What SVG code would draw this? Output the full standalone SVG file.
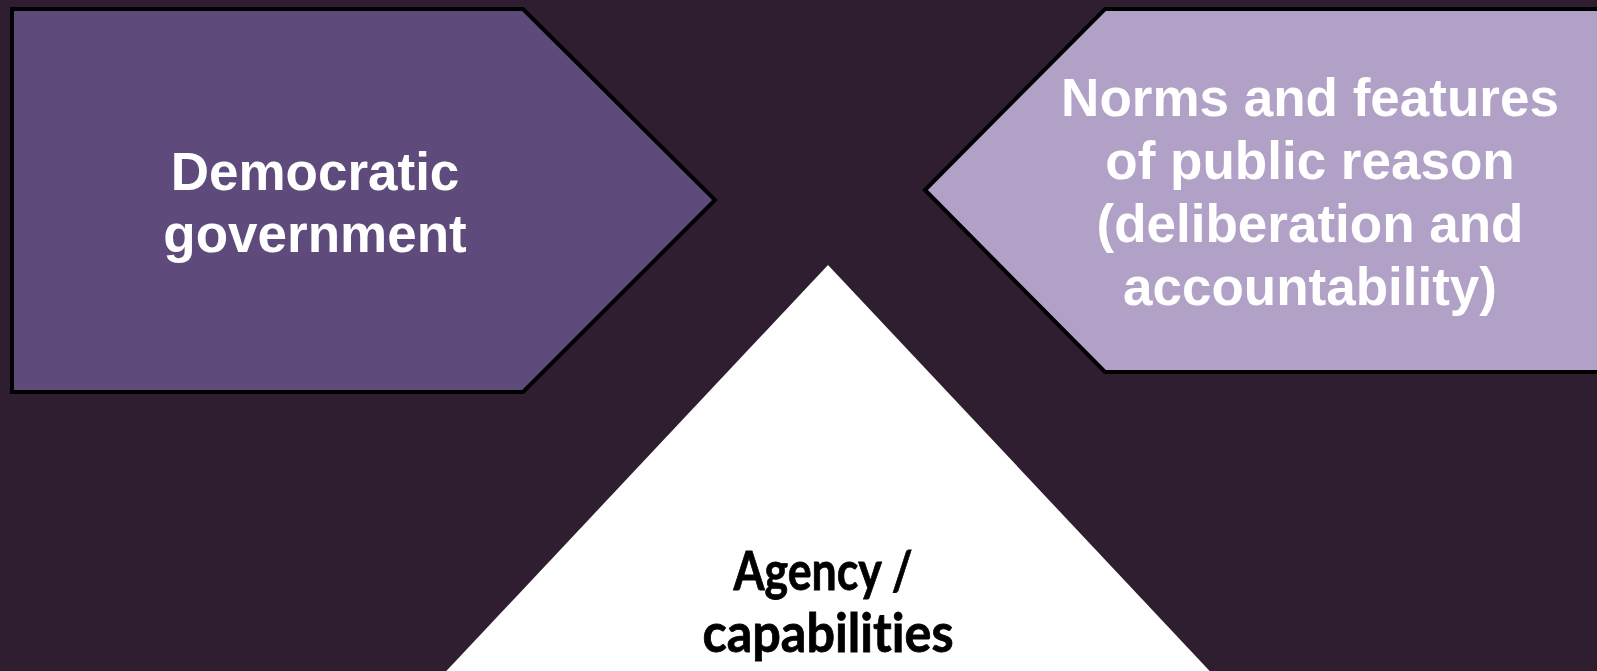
<svg xmlns="http://www.w3.org/2000/svg" width="1597" height="671" viewBox="0 0 1597 671">
  <style>
    .bg { fill: #2e1e2f; }
    .shape { stroke: #000000; stroke-width: 4; stroke-linejoin: miter; }
    .label { font-family: "Liberation Sans", Arial, sans-serif; font-weight: bold; font-size: 53px; fill: #ffffff; text-anchor: middle; }
    .label-dark { font-family: Lato, "Open Sans", sans-serif; font-weight: bold; font-size: 54px; fill: #000000; stroke: #000000; stroke-width: 0.8; text-anchor: middle; font-variant-ligatures: none; }
  </style>

  <!-- backdrop -->
  <rect class="bg" x="0" y="0" width="1597" height="671"/>

  <!-- pointed box facing right -->
  <g id="democratic-government">
    <polygon class="shape" fill="#5f4b7b" points="12,9 523,9 715,200 523,392 12,392"/>
    <text class="label" x="315" y="190">Democratic</text>
    <text class="label" x="315" y="252">government</text>
  </g>

  <!-- pointed box facing left, running off the right edge -->
  <g id="public-reason">
    <polygon class="shape" fill="#b1a1c7" points="1105,9 1602,9 1602,372 1105,372 925,190"/>
    <text class="label" x="1310" y="116">Norms and features</text>
    <text class="label" x="1310" y="179">of public reason</text>
    <text class="label" x="1310" y="242">(deliberation and</text>
    <text class="label" x="1310" y="305">accountability)</text>
  </g>

  <!-- white triangle rising from the bottom -->
  <g id="agency-capabilities">
    <polygon fill="#ffffff" points="828,265 1220,682 436,682"/>
    <text class="label-dark" x="823" y="590" textLength="179" lengthAdjust="spacingAndGlyphs">Agency /</text>
    <text class="label-dark" x="828" y="652" textLength="251" lengthAdjust="spacingAndGlyphs">capabilities</text>
  </g>

  <g id="connectors"/>
</svg>
